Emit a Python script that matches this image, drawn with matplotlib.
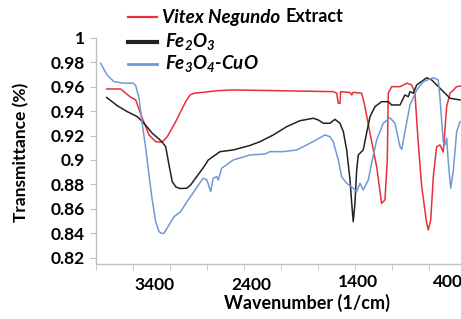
import matplotlib
matplotlib.use("Agg")
import matplotlib.pyplot as plt
from matplotlib.lines import Line2D

plt.rcParams['font.family'] = ['Lato', 'DejaVu Sans']
plt.rcParams['font.weight'] = 'bold'

# ---- data ----
vitex_wn = [3878, 3740, 3648, 3591, 3526, 3459, 3393, 3331, 3278, 3195, 3096, 3053, 3014,
            2915, 2789, 2625, 1964, 1635, 1601, 1585, 1568, 1561, 1469, 1452, 1437, 1353,
            1321, 1271, 1205, 1156, 1123, 1100, 1090, 1057, 974, 908, 858, 826, 793, 759,
            710, 694, 670, 644, 611, 578, 546, 512, 479, 413, 370]
vitex_t = [0.9582, 0.9582, 0.9519, 0.9492, 0.9342, 0.9205, 0.9150, 0.9145, 0.9191, 0.9314,
           0.9478, 0.9533, 0.9547, 0.9555, 0.9568, 0.9574, 0.9565, 0.9560, 0.9547, 0.9465,
           0.9465, 0.9560, 0.9553, 0.9533, 0.9555, 0.9547, 0.9437, 0.9219, 0.8945, 0.8645,
           0.8672, 0.9000, 0.9547, 0.9601, 0.9601, 0.9629, 0.9615, 0.9547, 0.9137, 0.8781,
           0.8481, 0.8426, 0.8508, 0.8863, 0.9109, 0.9123, 0.9065, 0.9437, 0.9547, 0.9601,
           0.9606]

fe2o3_wn = [3878, 3773, 3674, 3575, 3509, 3427, 3360, 3328, 3294, 3261, 3229, 3192, 3152,
            3086, 3047, 2987, 2915, 2872, 2756, 2625, 2459, 2360, 2229, 2096, 1964, 1833,
            1783, 1734, 1667, 1618, 1568, 1535, 1502, 1469, 1452, 1437, 1420, 1403, 1387,
            1338, 1305, 1271, 1222, 1156, 1090, 1057, 974, 925, 892, 875, 842, 809, 710,
            660, 578, 479, 380]
fe2o3_t = [0.9512, 0.9445, 0.9396, 0.9355, 0.9301, 0.9219, 0.9172, 0.9145, 0.9109, 0.8959,
           0.8822, 0.8778, 0.8766, 0.8768, 0.8795, 0.8863, 0.8945, 0.9000, 0.9068, 0.9082,
           0.9119, 0.9150, 0.9205, 0.9273, 0.9322, 0.9342, 0.9328, 0.9301, 0.9301, 0.9333,
           0.9301, 0.9232, 0.9082, 0.8836, 0.8645, 0.8494, 0.8645, 0.8918, 0.9041, 0.9082,
           0.9219, 0.9355, 0.9437, 0.9478, 0.9478, 0.9451, 0.9451, 0.9533, 0.9519, 0.9560,
           0.9547, 0.9615, 0.9674, 0.9656, 0.9588, 0.9506, 0.9492]

fecuo_wn = [3938, 3875, 3806, 3707, 3641, 3618, 3591, 3558, 3529, 3492, 3459, 3430, 3393,
            3360, 3331, 3311, 3261, 3212, 3146, 3083, 3014, 2925, 2885, 2849, 2823, 2789,
            2773, 2740, 2625, 2459, 2311, 2261, 2130, 1997, 1865, 1717, 1667, 1635, 1585,
            1552, 1502, 1437, 1403, 1370, 1338, 1288, 1255, 1205, 1140, 1073, 1024, 974,
            957, 925, 875, 809, 743, 645, 595, 578, 546, 529, 512, 496, 472, 447, 413, 380]
fecuo_t = [0.9793, 0.9697, 0.9642, 0.9629, 0.9629, 0.9631, 0.9609, 0.9508, 0.9314, 0.9098,
           0.8877, 0.8688, 0.8494, 0.8412, 0.8397, 0.8399, 0.8467, 0.8535, 0.8576, 0.8658,
           0.8740, 0.8850, 0.8836, 0.8740, 0.8850, 0.8863, 0.8836, 0.8932, 0.9000, 0.9041,
           0.9049, 0.9068, 0.9068, 0.9082, 0.9137, 0.9205, 0.9191, 0.9150, 0.9000, 0.8863,
           0.8809, 0.8768, 0.8740, 0.8809, 0.8754, 0.8836, 0.8973, 0.9164, 0.9301, 0.9346,
           0.9301, 0.9109, 0.9087, 0.9232, 0.9451, 0.9574, 0.9642, 0.9674, 0.9656, 0.9506,
           0.9150, 0.9123, 0.9178, 0.8986, 0.8768, 0.8904, 0.9232, 0.9314]

ytick_vals = [0.82, 0.84, 0.86, 0.88, 0.9, 0.92, 0.94, 0.96, 0.98, 1.0]
ytick_labels = ["0.82", "0.84", "0.86", "0.88", "0.9", "0.92", "0.94", "0.96", "0.98", "1"]
# x labels sit where the original (hand placed) labels sit
xlabel_pos = [3400, 2450, 1395, 499]
xlabel_text = ["3400", "2400", "1400", "400"]
xtick_marks = [3984, 3618, 3252, 2886, 2520, 2154, 1788, 1422, 1056, 690]

RED = "#e8303a"
BLACK = "#222222"
BLUE = "#7099d4"
GRID = "#bfbfbf"

W, H = 461, 319
fig = plt.figure(figsize=(W / 100, H / 100), dpi=100)
ax = fig.add_axes([96 / W, (H - 264) / H, (W - 96) / W, (264 - 38) / H])

l_red, = ax.plot(vitex_wn, vitex_t, color=RED, lw=1.1)
l_blk, = ax.plot(fe2o3_wn, fe2o3_t, color=BLACK, lw=1.1)
l_blu, = ax.plot(fecuo_wn, fecuo_t, color=BLUE, lw=1.1)

ax.set_xlim(3984, 370)
ax.set_ylim(0.8147, 1.0)

for s in ["top", "right"]:
    ax.spines[s].set_visible(False)
for s in ["left", "bottom"]:
    ax.spines[s].set_color(GRID)
    ax.spines[s].set_linewidth(1.0)

ax.set_yticks(ytick_vals)
ax.set_yticklabels(ytick_labels)
ax.set_xticks(xlabel_pos)
ax.set_xticklabels(xlabel_text)
ax.set_xticks(xtick_marks, minor=True)
ax.tick_params(axis="y", direction="out", length=4, color=GRID, labelsize=12.5, pad=4)
ax.tick_params(axis="x", which="major", length=0, labelsize=12.5, pad=7)
ax.tick_params(axis="x", which="minor", direction="out", length=4, color=GRID)
# the two left labels sit a little lower in the original
for t in ax.xaxis.get_major_ticks()[:2]:
    t.set_pad(9.5)

fig.text(307 / W, 1 - 303 / H, "Wavenumber (1/cm)", ha="center", va="center",
         fontsize=13, fontweight="bold")
fig.text(21 / W, 1 - 152 / H, "Transmittance (%)", ha="center", va="center",
         rotation=90, fontsize=12.5, fontweight="bold")

# ---- legend, drawn by hand ----
def fx(px):
    return px / W

def fy(py):
    return 1 - py / H

for py, ln, lw in [(17, l_red, 1.6), (42, l_blk, 3.0), (64, l_blu, 2.0)]:
    fig.add_artist(Line2D([fx(128), fx(157)], [fy(py), fy(py)], color=ln.get_color(),
                          lw=lw, transform=fig.transFigure))

fig.text(fx(162), fy(17), "Vitex Negundo", fontsize=13.5, fontweight="bold",
         fontstyle="italic", va="center")
fig.text(fx(285), fy(17), "Extract", fontsize=13, fontweight="bold", va="center")
fig.text(fx(165), fy(42), r"$\mathregular{Fe_2O_3}$", fontsize=13.5, fontweight="bold",
         fontstyle="italic", va="center")
fig.text(fx(165), fy(64), r"$\mathregular{Fe_3O_4}$-CuO", fontsize=13.5, fontweight="bold",
         fontstyle="italic", va="center")

fig.savefig("out.png", dpi=100)
